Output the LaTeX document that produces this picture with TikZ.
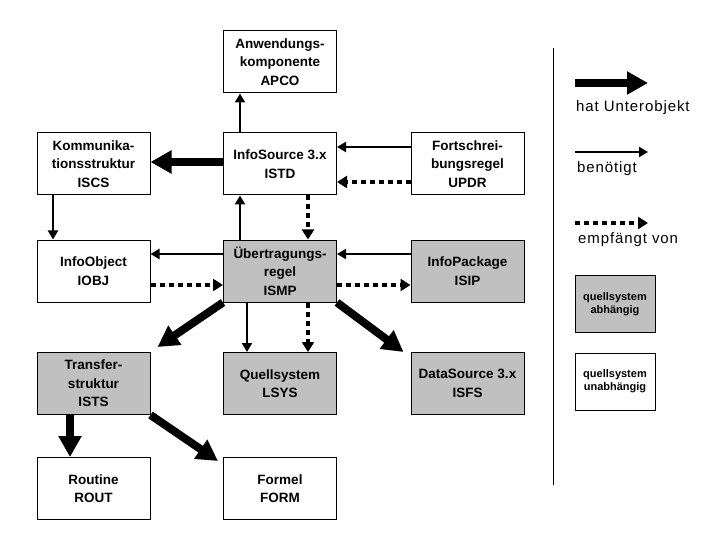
\documentclass[tikz,border=0pt]{standalone}
\usepackage{fontspec}
\setmainfont{Liberation Sans}
\newfontfamily\legfont[LetterSpace=6]{Liberation Sans}
\usetikzlibrary{arrows.meta}
\definecolor{boxgrey}{RGB}{192,192,192}
\tikzset{
  box/.style={draw, line width=1pt, minimum width=113pt, minimum height=62pt, align=center, inner sep=0pt,
    font=\bfseries\fontsize{13.5}{18.5}\selectfont},
  greybox/.style={box, fill=boxgrey},
  legbox/.style={draw, line width=1pt, minimum width=80pt, minimum height=57pt, align=center, inner sep=0pt,
    font=\bfseries\fontsize{11}{13}\selectfont},
  legtext/.style={anchor=west, inner sep=0pt, font=\legfont\fontsize{15}{18}\selectfont},
  needs/.style={line width=2.5pt, -{Triangle[length=9pt,width=10pt]}},
  recv/.style={line width=4pt, dash pattern=on 5pt off 4pt, -{Triangle[length=10pt,width=12pt]}},
  sub/.style={line width=8pt, -{Triangle[length=21pt,width=22pt]}},
}
\begin{document}
\begin{tikzpicture}[x=1pt,y=-1pt]
\useasboundingbox (0,0) rectangle (720,540);
% nodes
\node[box] (APCO) at (280,62) {Anwendungs-\\komponente\\APCO};
\node[box] (ISCS) at (93.5,164) {Kommunika-\\tionsstruktur\\ISCS};
\node[box] (ISTD) at (280,164) {InfoSource 3.x\\ISTD};
\node[box] (UPDR) at (467.5,164) {Fortschrei-\\bungsregel\\UPDR};
\node[box] (IOBJ) at (93.5,271) {InfoObject\\IOBJ};
\node[greybox] (ISMP) at (280,271) {Übertragungs-\\regel\\ISMP};
\node[greybox] (ISIP) at (467.5,271) {InfoPackage\\ISIP};
\node[greybox] (ISTS) at (93.5,383.5) {Transfer-\\struktur\\ISTS};
\node[greybox] (LSYS) at (280,383.5) {Quellsystem\\LSYS};
\node[greybox] (ISFS) at (467.5,383.5) {DataSource 3.x\\ISFS};
\node[box] (ROUT) at (93.5,488.5) {Routine\\ROUT};
\node[box] (FORM) at (280,488.5) {Formel\\FORM};
% connectors
\draw[needs] ([xshift=-40pt]ISTD.north) -- ([xshift=-40pt]APCO.south);
\draw[sub] ([yshift=2pt]ISTD.west) -- ([yshift=2pt]ISCS.east);
\draw[needs] ([yshift=17pt]UPDR.west) -- ([yshift=17pt]ISTD.east);
\draw[recv] ([yshift=-18pt]UPDR.west) -- ([yshift=-18pt]ISTD.east);
\draw[needs] ([xshift=-40.5pt]ISCS.south) -- ([xshift=-40.5pt]IOBJ.north);
\draw[needs] ([xshift=-40pt]ISMP.north) -- ([xshift=-40pt]ISTD.south);
\draw[recv] ([xshift=28pt]ISTD.south) -- ([xshift=28pt]ISMP.north);
\draw[needs] ([yshift=17pt]ISMP.west) -- ([yshift=17pt]IOBJ.east);
\draw[recv] ([yshift=-14pt]IOBJ.east) -- ([yshift=-14pt]ISMP.west);
\draw[needs] ([yshift=17pt]ISIP.west) -- ([yshift=17pt]ISMP.east);
\draw[recv] ([yshift=-14pt]ISMP.east) -- ([yshift=-14pt]ISIP.west);
\draw[needs] ([xshift=-33pt]ISMP.south) -- ([xshift=-33pt]LSYS.north);
\draw[recv] ([xshift=28pt]ISMP.south) -- ([xshift=28pt]LSYS.north);
\draw[sub] (ISMP.south west) -- ([shift={(7pt,5pt)}]ISTS.north east);
\draw[sub] (ISMP.south east) -- ([shift={(-7pt,0pt)}]ISFS.north west);
\draw[sub] ([xshift=-23.5pt]ISTS.south) -- ([xshift=-23.5pt]ROUT.north);
\draw[sub] (ISTS.south east) -- ([shift={(-5pt,-4pt)}]FORM.north west);
% legend
\draw[line width=1pt] (553,48) coordinate (sepA) -- (553,485) coordinate (sepB);
\coordinate (l1a) at (575,83); \coordinate (l1b) at (648,83);
\coordinate (l2a) at (575,152); \coordinate (l2b) at (648,152);
\coordinate (l3a) at (575,223); \coordinate (l3b) at (648,223);
\draw[sub] (l1a) -- (l1b);
\draw[needs] (l2a) -- (l2b);
\draw[recv] (l3a) -- (l3b);
\node[legtext] (t1) at (576,108) {hat Unterobjekt};
\node[legtext] (t2) at (577,169) {benötigt};
\node[legtext] (t3) at (578,240) {empfängt von};
\node[legbox, fill=boxgrey] (lg1) at (615,304) {quellsystem\\abhängig};
\node[legbox] (lg2) at (615,381.5) {quellsystem\\unabhängig};
\end{tikzpicture}
\end{document}
